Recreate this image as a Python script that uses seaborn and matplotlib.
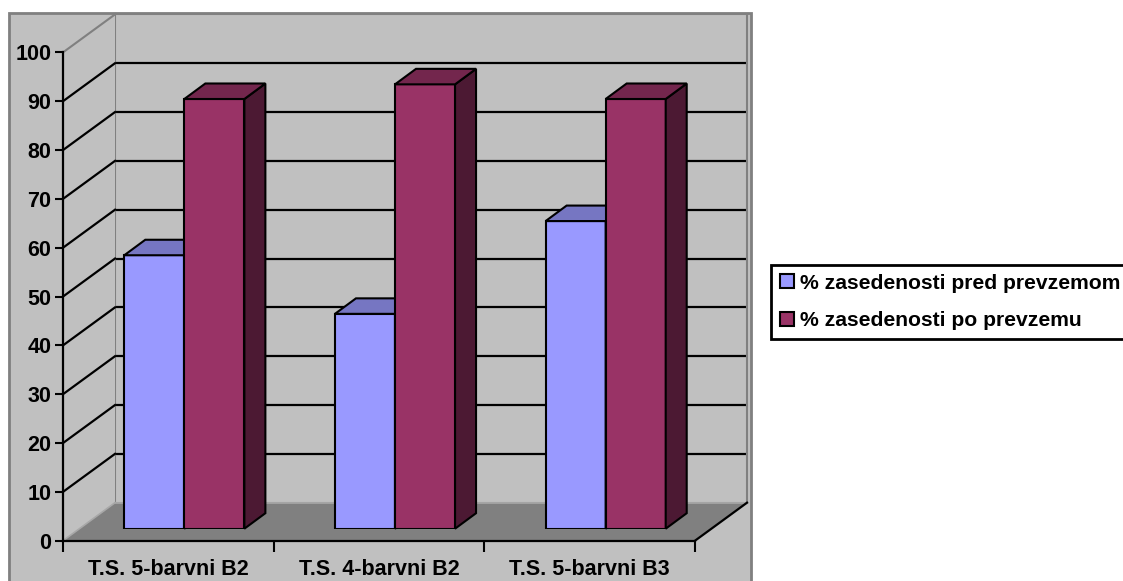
import numpy as np
import pandas as pd
import matplotlib
matplotlib.use("Agg")
import matplotlib.pyplot as plt
import seaborn as sns
from matplotlib.patches import Polygon, Rectangle, Patch
from matplotlib.colors import to_rgba

# ---------------- data ----------------
categories = ["T.S. 5-barvni B2", "T.S. 4-barvni B2", "T.S. 5-barvni B3"]
series_names = ["% zasedenosti pred prevzemom", "% zasedenosti po prevzemu"]
before = [56, 44, 63]
after = [88, 91, 88]
y_ticks = list(range(0, 101, 10))

# ---------------- style ----------------
front_colors = ["#9999FF", "#993366"]
top_colors = ["#7676C2", "#73264D"]
side_colors = ["#4D4D80", "#4C1933"]
wall_color = "#C0C0C0"
floor_color = "#808080"
border_gray = "#808080"
edge_light = "#A8A8A8"

plt.rcParams["font.family"] = ["Liberation Sans", "DejaVu Sans"]
plt.rcParams["font.weight"] = "bold"

W, H, DPI = 1123, 581, 100
fig = plt.figure(figsize=(W / DPI, H / DPI), dpi=DPI)
fig.patch.set_facecolor("white")

# geometry (pixels, measured from top-left of image)
bar_left, bar_right = 79, 711
bar_zero, bar_top = 528.7, 40.4
front_off = (-16, -12)    # display offset of front plane (x right, y up)
back_off = (36, 26)       # display offset of back wall
bar_depth = (21, 15.5)
pw = bar_right - bar_left
ph = bar_zero - bar_top

# chart area background
fig.add_artist(Rectangle((9 / W, -0.02), (751 - 9) / W, (H - 13) / H + 0.02,
                         transform=fig.transFigure, facecolor=wall_color,
                         edgecolor=border_gray, lw=2, zorder=-5))

ax_back = fig.add_axes([(bar_left + back_off[0]) / W, (H - bar_zero + back_off[1]) / H, pw / W, ph / H])
ax_bar = fig.add_axes([bar_left / W, (H - bar_zero) / H, pw / W, ph / H])
ax_front = fig.add_axes([(bar_left + front_off[0]) / W, (H - bar_zero + front_off[1]) / H, pw / W, ph / H])
ax_back.set_zorder(0)
ax_bar.set_zorder(1)
ax_front.set_zorder(2)

xlim = (-0.5, len(categories) - 0.5)
for a in (ax_back, ax_bar, ax_front):
    a.set_xlim(*xlim)
    a.set_ylim(0, 100)

# ---- back wall ----
ax_back.set_facecolor(wall_color)
for s in ax_back.spines.values():
    s.set_color(border_gray)
    s.set_linewidth(1.5)
ax_back.spines["bottom"].set_color(edge_light)
ax_back.set_yticks(y_ticks[1:-1])
ax_back.set_xticks([])
ax_back.tick_params(axis="y", length=0, labelleft=False)
ax_back.yaxis.grid(True, color="black", lw=1.6)
ax_back.set_axisbelow(True)

# ---- bars via seaborn ----
df = pd.DataFrame({
    "category": categories * 2,
    "series": [series_names[0]] * len(categories) + [series_names[1]] * len(categories),
    "value": before + after,
})
sns.barplot(data=df, x="category", y="value", hue="series", order=categories,
            hue_order=series_names, palette=front_colors, saturation=1,
            width=0.57, gap=0, edgecolor="black", linewidth=1.5,
            errorbar=None, legend=False, ax=ax_bar)
ax_bar.set_xlim(*xlim)
ax_bar.set_ylim(0, 100)
ax_bar.axis("off")

sx = pw / (xlim[1] - xlim[0])
sy = ph / 100.0


def off(x, v, d):
    return (x + d[0] / sx, v + d[1] / sy)


# side wall and floor
x0w, x1w = xlim
ax_bar.add_patch(Polygon([off(x0w, 0, front_off), off(x0w, 0, back_off),
                          off(x0w, 100, back_off), off(x0w, 100, front_off)],
                         closed=True, facecolor=wall_color, edgecolor="none",
                         clip_on=False, zorder=0.2))
ax_bar.plot(*zip(off(x0w, 100, front_off), off(x0w, 100, back_off)),
            color=border_gray, lw=1.5, clip_on=False, zorder=0.3)
for v in y_ticks[1:-1]:
    ax_bar.plot(*zip(off(x0w, v, front_off), off(x0w, v, back_off)),
                color="black", lw=1.6, clip_on=False, zorder=0.3)
ax_bar.add_patch(Polygon([off(x0w, 0, front_off), off(x1w, 0, front_off),
                          off(x1w, 0, back_off), off(x0w, 0, back_off)],
                         closed=True, facecolor=floor_color, edgecolor="none",
                         clip_on=False, zorder=0.4))
ax_bar.plot(*zip(off(x0w, 0, front_off), off(x0w, 0, back_off)),
            color=edge_light, lw=1.2, clip_on=False, zorder=0.5)
ax_bar.plot(*zip(off(x0w, 0, back_off), off(x1w, 0, back_off)),
            color=edge_light, lw=1.2, clip_on=False, zorder=0.5)
ax_bar.plot(*zip(off(x1w, 0, front_off), off(x1w, 0, back_off)),
            color="black", lw=1.6, clip_on=False, zorder=0.5)

# 3D faces of bars
for p in list(ax_bar.patches):
    if not isinstance(p, Rectangle) or p.get_width() <= 0:
        continue
    fc = to_rgba(p.get_facecolor())
    idx = int(np.argmin([np.sum(np.abs(np.array(fc) - np.array(to_rgba(c)))) for c in front_colors]))
    z = 2 + idx
    p.set_zorder(z)
    p.set_joinstyle("miter")
    x0 = p.get_x()
    w = p.get_width()
    h = p.get_height()
    top = Polygon([(x0, h), (x0 + w, h), off(x0 + w, h, bar_depth), off(x0, h, bar_depth)],
                  closed=True, facecolor=top_colors[idx], edgecolor="black", lw=1.5,
                  joinstyle="miter", zorder=z, clip_on=False)
    side = Polygon([(x0 + w, 0), (x0 + w, h), off(x0 + w, h, bar_depth), off(x0 + w, 0, bar_depth)],
                   closed=True, facecolor=side_colors[idx], edgecolor="black", lw=1.5,
                   joinstyle="miter", zorder=z, clip_on=False)
    ax_bar.add_patch(side)
    ax_bar.add_patch(top)

# ---- front axes ----
ax_front.set_facecolor("none")
ax_front.spines["top"].set_visible(False)
ax_front.spines["right"].set_visible(False)
for s in ("left", "bottom"):
    ax_front.spines[s].set_color("black")
    ax_front.spines[s].set_linewidth(1.6)
ax_front.set_yticks(y_ticks)
ax_front.set_yticklabels([str(t) for t in y_ticks])
ax_front.tick_params(axis="y", direction="out", length=6, width=1.5, pad=2.5,
                     labelsize=15.5, colors="black")
ax_front.set_xticks(np.arange(len(categories) + 1) - 0.5)
ax_front.set_xticklabels([])
ax_front.set_xticks(np.arange(len(categories)), minor=True)
ax_front.set_xticklabels(categories, minor=True)
ax_front.tick_params(axis="x", which="major", direction="out", length=8, width=1.5)
ax_front.tick_params(axis="x", which="minor", length=0, pad=13, labelsize=15.5)
for lab in ax_front.get_yticklabels() + ax_front.get_xticklabels(minor=True):
    lab.set_fontweight("bold")

# ---- legend ----
handles = [Patch(facecolor=c, edgecolor="black", lw=1.5) for c in front_colors]
leg = fig.legend(handles=handles, labels=series_names, loc="upper left",
                 bbox_to_anchor=(771 / W, 1 - 265 / H), frameon=True, fancybox=False,
                 edgecolor="black", framealpha=1, facecolor="white",
                 prop={"weight": "bold", "size": 15.2}, handlelength=0.65,
                 handleheight=0.65, handletextpad=0.3, borderpad=0.42,
                 labelspacing=0.86, borderaxespad=0)
leg.get_frame().set_linewidth(2)

fig.savefig("out.png", dpi=DPI, facecolor="white")
